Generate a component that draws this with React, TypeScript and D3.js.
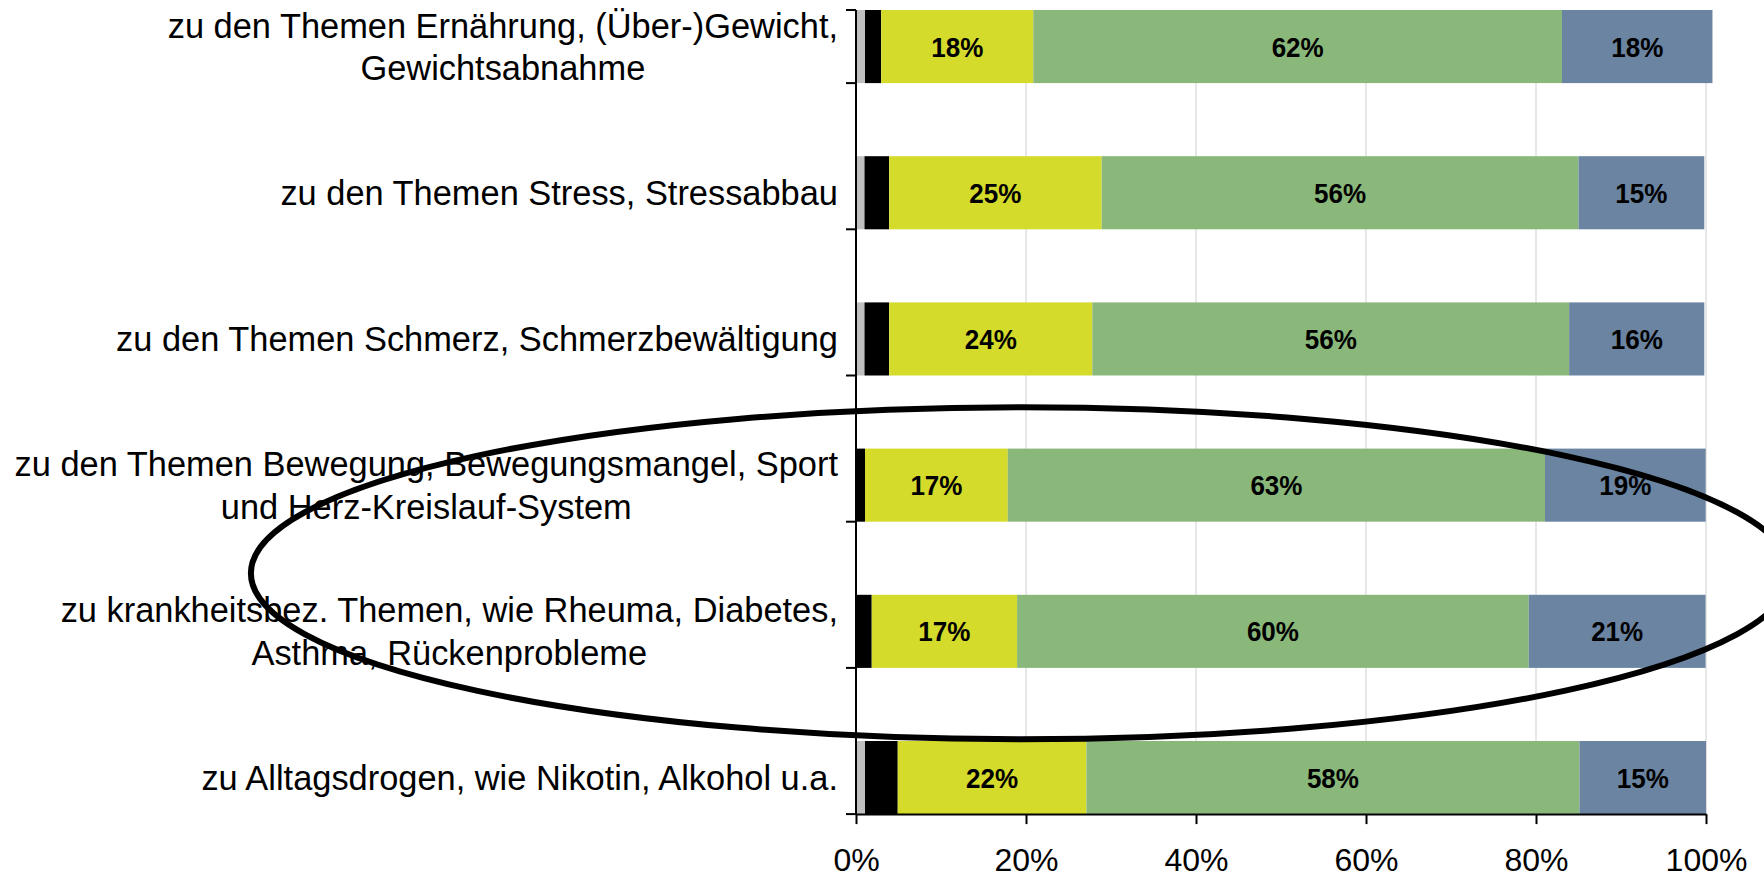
import { useEffect, useRef } from 'react';
import * as d3 from 'd3';

// categories, top to bottom; each entry is the wrapped label lines
const categoryLines = [
  ['zu den Themen Ernährung, (Über-)Gewicht,', 'Gewichtsabnahme'],
  ['zu den Themen Stress, Stressabbau'],
  ['zu den Themen Schmerz, Schmerzbewältigung'],
  ['zu den Themen Bewegung, Bewegungsmangel, Sport', 'und Herz-Kreislauf-System'],
  ['zu krankheitsbez. Themen, wie Rheuma, Diabetes,', 'Asthma, Rückenprobleme'],
  ['zu Alltagsdrogen, wie Nikotin, Alkohol u.a.'],
];

// series values in percent
const grayVals = [1.06, 1.0, 1.0, 0, 0, 1.06];
const blackVals = [1.9, 2.9, 2.9, 1.06, 1.85, 3.85];
const yellowVals = [17.9, 25.0, 23.9, 16.8, 17.1, 22.2];
const greenVals = [62.2, 56.1, 56.1, 63.2, 60.2, 58.0];
const blueVals = [17.7, 14.8, 15.9, 18.9, 20.8, 14.9];

const seriesColors = ['#c0c0c0', '#000000', '#d4db2b', '#8ab87b', '#6a84a1'];
const labelledSeries = [false, false, true, true, true];

const xTickValues = [0, 20, 40, 60, 80, 100];

function App() {
  const svgRef = useRef(null);

  useEffect(() => {
    const width = 1764;
    const height = 877;
    const font = '"Liberation Sans", Arial, sans-serif';

    const svg = d3.select(svgRef.current)
      .attr('width', width)
      .attr('height', height);

    svg.selectAll('*').remove();

    const ids = categoryLines.map((_, i) => i);
    const series = [grayVals, blackVals, yellowVals, greenVals, blueVals];

    const x = d3.scaleLinear().domain([0, 100]).range([856, 1706]);
    const y = d3.scaleBand()
      .domain(ids)
      .range([-63.1, 887.2])
      .paddingInner(0.5)
      .paddingOuter(0.5);

    const axisTop = y(0);
    const axisBottom = y(ids.length - 1) + y.bandwidth();

    // gridlines
    svg.append('g')
      .selectAll('line')
      .data(xTickValues.slice(1))
      .enter()
      .append('line')
      .attr('x1', d => x(d))
      .attr('x2', d => x(d))
      .attr('y1', axisTop)
      .attr('y2', axisBottom)
      .attr('stroke', '#cfcfcf')
      .attr('stroke-width', 1);

    // stacked bars
    const rows = ids.map(i => {
      let acc = 0;
      return series.map((s, k) => {
        const seg = { row: i, k, x0: acc, x1: acc + s[i], v: s[i] };
        acc += s[i];
        return seg;
      });
    }).flat();

    svg.append('g')
      .selectAll('rect')
      .data(rows.filter(d => d.v > 0))
      .enter()
      .append('rect')
      .attr('x', d => x(d.x0))
      .attr('y', d => y(d.row))
      .attr('width', d => x(d.x1) - x(d.x0))
      .attr('height', y.bandwidth())
      .attr('fill', d => seriesColors[d.k]);

    svg.append('g')
      .selectAll('text')
      .data(rows.filter(d => labelledSeries[d.k]))
      .enter()
      .append('text')
      .attr('transform', d => `translate(${(x(d.x0) + x(d.x1)) / 2}, ${y(d.row) + y.bandwidth() / 2}) scale(0.93, 1)`)
      .attr('dy', '0.36em')
      .attr('text-anchor', 'middle')
      .attr('font-family', font)
      .attr('font-weight', 'bold')
      .attr('font-size', 28)
      .attr('fill', '#000')
      .text(d => Math.round(d.v) + '%');

    // category axis
    const yAxis = svg.append('g');
    yAxis.append('line')
      .attr('x1', x(0)).attr('x2', x(0))
      .attr('y1', axisTop).attr('y2', axisBottom)
      .attr('stroke', '#000').attr('stroke-width', 2);
    yAxis.selectAll('line.tick')
      .data([axisTop, ...ids.map(i => y(i) + y.bandwidth())])
      .enter()
      .append('line')
      .attr('class', 'tick')
      .attr('x1', x(0) - 10).attr('x2', x(0))
      .attr('y1', d => d).attr('y2', d => d)
      .attr('stroke', '#000').attr('stroke-width', 2);

    // value axis
    const xAxis = svg.append('g')
      .attr('transform', `translate(0, ${axisBottom})`)
      .call(d3.axisBottom(x)
        .tickValues(xTickValues)
        .tickFormat(d => d + '%')
        .tickSize(10)
        .tickSizeOuter(0)
        .tickPadding(24));
    xAxis.select('.domain').attr('stroke', '#000').attr('stroke-width', 2);
    xAxis.selectAll('line').attr('stroke', '#000').attr('stroke-width', 2);
    xAxis.selectAll('text')
      .attr('font-family', font)
      .attr('font-size', 32)
      .attr('fill', '#000');

    // category labels
    const labelRight = 838;
    const lineGap = 42.5;
    const labels = svg.append('g')
      .attr('font-family', font)
      .attr('font-size', 34.4)
      .attr('fill', '#000');

    categoryLines.forEach((lines, i) => {
      const cy = y(i) + y.bandwidth() / 2;
      const first = labels.append('text')
        .attr('x', labelRight)
        .attr('y', cy - (lines.length - 1) * lineGap / 2)
        .attr('dy', '0.36em')
        .attr('text-anchor', 'end')
        .text(lines[0]);
      const w = first.node().getComputedTextLength();
      lines.slice(1).forEach((line, j) => {
        labels.append('text')
          .attr('x', labelRight - w / 2)
          .attr('y', cy - (lines.length - 1) * lineGap / 2 + (j + 1) * lineGap)
          .attr('dy', '0.36em')
          .attr('text-anchor', 'middle')
          .text(line);
      });
    });

    // highlight ellipse around rows 4 and 5
    const cyE = (y(3) + y(4) + y.bandwidth()) / 2 + 15;
    svg.append('ellipse')
      .attr('cx', x(19.4))
      .attr('cy', cyE)
      .attr('rx', 770)
      .attr('ry', 166)
      .attr('fill', 'none')
      .attr('stroke', '#000')
      .attr('stroke-width', 6);
  }, []);

  return (
    <svg ref={svgRef} style={{ position: 'absolute', left: 0, top: 0, display: 'block' }}></svg>
  );
}

export default App;
